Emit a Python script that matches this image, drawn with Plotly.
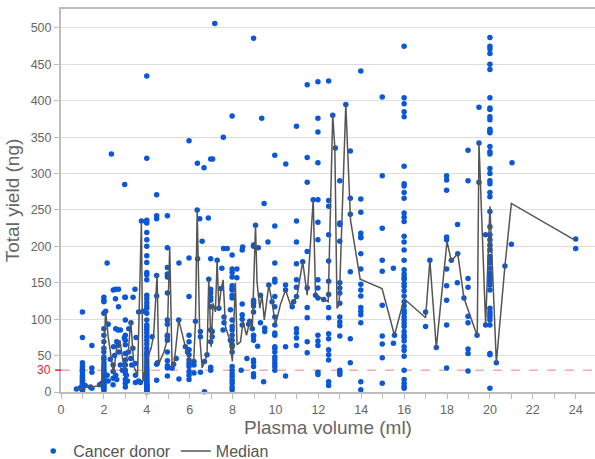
import plotly.graph_objects as go

# ---- data: cancer donor samples, grouped by plasma volume column ----
col_1_x = 1.0
col_1 = [2, 3, 4, 5, 6, 7, 8, 9, 10, 12, 14, 16, 18, 20, 22, 25, 28, 30, 33, 36, 40, 75, 110]
col_2_x = 2.0
col_2 = [2, 4, 6, 8, 10, 12, 15, 18, 20, 23, 25, 28, 30, 33, 36, 40, 45, 48, 55, 60, 69, 78, 87, 108, 124, 126, 130]
col_3_x = 3.0
col_3 = [7, 12, 17, 25, 30, 37, 44, 53, 65, 71, 78, 99, 130]
col_4_x = 4.0
col_4 = [0, 1, 2, 3, 4, 5, 6, 7, 8, 9, 10, 11, 12, 14, 16, 18, 20, 22, 24, 26, 28, 30, 33, 36, 40,
         44, 48, 52, 55, 60, 66, 71, 76, 81, 85, 89, 92, 99, 108, 115, 118, 123, 128, 133, 154, 161,
         164, 178, 187, 200, 209, 219, 232, 236, 321, 434]
col_5_x = 4.96
col_5 = [22, 33, 36, 43, 55, 71, 76, 78, 93, 99, 136, 158, 162, 171, 198, 242]
col_6_x = 5.97
col_6 = [17, 23, 28, 35, 39, 44, 51, 58, 69, 78, 131, 184, 345]
col_7_x = 6.98
col_7 = [30, 34, 69, 85, 117, 126, 130, 136, 141, 183, 320]
col_8_x = 7.98
col_8 = [3, 7, 12, 16, 21, 25, 30, 35, 55, 62, 65, 71, 78, 85, 90, 99, 129, 133, 140, 142, 146,
         158, 164, 169, 188, 379]
col_9_x = 8.98
col_9 = [21, 25, 35, 41, 44, 71, 76, 78, 110, 118, 122, 124, 126, 200, 202, 486]
col_10_x = 9.97
col_10 = [30, 35, 39, 44, 48, 55, 60, 62, 78, 81, 92, 103, 117, 131, 151, 155, 177, 228, 325]
col_11_x = 10.98
col_11 = [64, 74, 81, 87, 131, 144, 154, 176, 206, 235, 365]
col_12_x = 11.98
col_12 = [24, 27, 64, 70, 78, 129, 143, 154, 209, 233, 264, 315, 357, 376, 426]
col_12_5_x = 12.48
col_12_5 = [9, 14, 44, 51, 58, 73, 80, 102, 116, 134, 152, 180, 216, 255, 263, 427]
col_13_x = 13.0
col_13 = [24, 27, 30, 77, 91, 96, 103, 122, 136, 143, 150, 207, 230, 232, 290]
col_13_5_x = 13.49
col_13_5 = [40, 73, 165, 244, 266, 331]
col_14_x = 13.98
col_14 = [3, 14, 95, 106, 111, 116, 132, 140, 148, 169, 190, 212, 213, 218, 247, 265, 441]
col_15_x = 14.98
col_15 = [12, 47, 66, 77, 119, 166, 181, 225, 297, 405]
col_16_x = 16.0
col_16 = [5, 8, 12, 17, 30, 49, 57, 62, 70, 75, 78, 83, 90, 94, 99, 103, 108, 112, 118, 124, 132,
          139, 145, 149, 155, 158, 162, 168, 181, 195, 206, 214, 234, 240, 246, 266, 274, 283, 286,
          310, 378, 385, 396, 404, 475]
col_18_x = 17.98
col_18 = [33, 92, 126, 146, 169, 209, 213, 277, 291, 297]
col_19_x = 18.98
col_19 = [29, 53, 59, 95, 104, 144, 156, 290, 332]
col_20_x = 20.0
col_20 = [5, 51, 53, 92, 99, 103, 106, 110, 115, 140, 147, 152, 156, 158, 163, 170, 177, 181, 186,
          195, 202, 209, 216, 227, 248, 268, 274, 286, 290, 300, 307, 327, 330, 337, 356, 358, 361,
          374, 378, 388, 390, 404, 443, 450, 465, 471, 475, 487]
col_24_x = 24.0
col_24 = [197, 210]

other_x = [0.72, 0.9, 1.13, 1.37, 1.44, 1.44, 1.44, 1.44, 1.8, 1.9,
           2.15, 2.2, 2.15, 2.2, 2.08, 2.35, 2.44, 2.54, 2.68, 2.54, 2.68, 2.98, 2.97, 3.36, 3.45,
           3.62, 3.82, 2.55, 2.66, 2.77, 2.45, 2.6, 2.66, 2.95, 3.16, 3.26, 3.15, 3.25, 3.3, 3.47,
           3.47, 3.62, 2.43, 2.43, 2.43, 2.43, 2.77, 2.86, 3.05, 3.1, 2.55, 2.6, 3.47, 3.7, 3.75,
           3.96, 2.3, 2.5, 2.7, 3.35, 3.5,
           4.46, 4.46, 4.46, 4.46, 4.46, 4.46, 4.46, 4.25, 4.5,
           5.18, 5.25, 5.37, 5.5, 5.49, 5.5, 5.8, 5.9, 6.2, 6.2, 6.2, 6.27, 6.35, 6.36, 6.47,
           6.37, 6.5, 6.5, 6.5, 6.58, 6.67, 6.69, 6.69, 6.81, 6.87, 6.89, 7.07, 7.05, 7.05, 7.17,
           7.28, 7.36, 7.45, 7.5, 7.56, 7.57, 7.58, 7.6, 7.6, 7.75, 7.9, 7.9,
           8.2, 8.2, 8.45, 8.45, 8.45, 8.45, 8.45, 8.47, 8.4, 8.67, 8.75, 8.8, 8.92, 9.07, 9.17,
           9.2, 9.3, 9.3, 9.36, 9.45, 9.47, 9.5, 9.5, 9.65, 9.69, 9.84,
           10.47, 10.47, 10.47, 10.47, 10.48, 10.78, 10.85, 11.27, 11.48, 11.48, 11.48, 11.48,
           11.48, 11.48, 11.48, 11.48, 11.48, 11.76, 11.87, 12.25, 12.67, 12.79, 13.28,
           15.5, 15.55, 15.5, 17.0, 17.0, 17.2, 17.5, 18.2, 18.48, 18.49, 18.5, 18.79, 19.4,
           19.49, 19.49, 19.49, 19.8, 19.8, 20.3, 20.7, 21.0, 21.03]
other_y = [4, 6, 9, 7, 5, 27, 33, 64, 10, 12,
           177, 93, 23, 15, 111, 327, 140, 141, 141, 128, 117, 130, 285, 130, 141,
           110, 111, 87, 85, 85, 62, 69, 64, 74, 87, 95, 55, 46, 37, 39,
           23, 15, 37, 28, 19, 10, 37, 30, 23, 15, 23, 17, 13, 13, 235,
           234, 45, 50, 55, 60, 75,
           160, 132, 38, 16, 271, 242, 238, 76, 40,
           33, 38, 46, 177, 99, 18, 62, 55, 42, 37, 26, 97, 250, 314, 238,
           183, 83, 76, 27, 207, 308, 0.5, 42, 51, 239, 155, 320, 83, 76, 506,
           181, 115, 142, 170, 85, 350, 197, 103, 95, 197, 113, 71,
           169, 157, 195, 121, 106, 100, 92, 199, 30, 46, 93, 97, 87, 229, 63,
           198, 133, 95, 376, 14, 259, 88, 83, 206, 147, 124,
           147, 140, 62, 22, 313, 117, 124, 179, 193, 143, 116, 102,
           69, 54, 288, 322, 422, 264, 133, 127, 380, 335, 395,
           170, 78, 67, 110, 90, 181, 61, 181, 150, 230, 190, 129, 78,
           391, 288, 342, 216, 92, 40, 173, 203, 315]

# ---- median line ----
median_x = [0.7, 1.0, 1.2, 1.45, 1.8, 1.95, 2.0, 2.08, 2.2, 2.45, 2.6, 2.75, 2.95, 3.15, 3.25, 3.4,
            3.57, 3.75, 3.82, 3.98, 4.2, 4.32, 4.48, 4.56, 4.8, 4.95, 5.07, 5.18, 5.27, 5.49, 5.8,
            6.0, 6.19, 6.27, 6.35, 6.47, 6.58, 6.69, 6.81, 6.89, 7.0, 7.09, 7.2, 7.28, 7.36, 7.47,
            7.56, 7.67, 7.87, 7.99, 8.13, 8.21, 8.37, 8.49, 8.65, 8.8, 8.92, 9.07, 9.14, 9.27, 9.37,
            9.48, 9.69, 9.84, 10.0, 10.23, 10.47, 10.7, 10.85, 11.0, 11.27, 11.48, 11.76, 11.87,
            12.25, 12.46, 12.67, 12.77, 12.87, 12.97, 13.28, 13.5, 13.95, 14.97, 15.55, 16.0, 17.0,
            17.2, 17.5, 18.0, 18.2, 18.5, 18.79, 19.41, 19.49, 19.8, 20.0, 20.3, 20.7, 21.0, 24.0]
median_y = [4, 5, 7, 7, 9, 12, 55, 111, 76, 25, 62, 71, 30, 59, 98, 35,
            23, 235, 14, 42, 60, 78, 161, 39, 55, 71, 199, 35, 38, 99, 62,
            42, 44, 97, 250, 76, 33, 42, 51, 155, 62, 122, 110, 181, 115, 142,
            154, 90, 71, 42, 150, 65, 69, 97, 78, 97, 87, 229, 151, 115, 133,
            99, 147, 124, 92, 120, 140, 120, 124, 131, 179, 133, 264, 133,
            127, 124, 380, 335, 115, 120, 395, 236, 155, 142, 78, 128, 102,
            181, 61, 207, 180, 190, 129, 77, 342, 92, 255, 40, 173, 259, 208]

x_ticks = list(range(0, 25, 2))
y_ticks = list(range(0, 501, 50))
threshold = 30

# ---- assemble scatter ----
columns = [
    (col_1_x, col_1), (col_2_x, col_2), (col_3_x, col_3), (col_4_x, col_4), (col_5_x, col_5),
    (col_6_x, col_6), (col_7_x, col_7), (col_8_x, col_8), (col_9_x, col_9), (col_10_x, col_10),
    (col_11_x, col_11), (col_12_x, col_12), (col_12_5_x, col_12_5), (col_13_x, col_13),
    (col_13_5_x, col_13_5), (col_14_x, col_14), (col_15_x, col_15), (col_16_x, col_16),
    (col_18_x, col_18), (col_19_x, col_19), (col_20_x, col_20), (col_24_x, col_24),
]
donor_x, donor_y = [], []
for cx, ys in columns:
    donor_x += [cx] * len(ys)
    donor_y += ys
donor_x += other_x
donor_y += other_y

BLUE = "#0a57d8"
GRAY_TXT = "#666666"
AXIS = "#bdbdbd"
FONT = "Liberation Sans, Arial, sans-serif"

fig = go.Figure()
fig.add_trace(go.Scatter(
    x=donor_x, y=donor_y, mode="markers", name="Cancer donor",
    marker=dict(color=BLUE, size=5.5), cliponaxis=False,
))
fig.add_trace(go.Scatter(
    x=median_x, y=median_y, mode="lines", name="Median",
    line=dict(color="#555555", width=1.5), cliponaxis=False,
))

# threshold dashed line
fig.add_shape(type="line", xref="paper", x0=0, x1=1, yref="y", y0=threshold, y1=threshold,
              line=dict(color="#f08080", width=1, dash="dash"), layer="below")
fig.add_shape(type="line", xref="paper", x0=-0.011, x1=0, yref="y", y0=threshold, y1=threshold,
              line=dict(color="#d7263d", width=1.5))
fig.add_annotation(x=0, xref="paper", y=threshold, yref="y", text=str(threshold),
                   showarrow=False, xanchor="right", xshift=-8,
                   font=dict(color="#d7263d", size=12, family=FONT))

fig.update_layout(
    width=595, height=459,
    margin=dict(l=61, r=0, t=9, b=67, autoexpand=False),
    paper_bgcolor="white", plot_bgcolor="white",
    font=dict(family=FONT, color=GRAY_TXT, size=12),
    showlegend=True,
    legend=dict(orientation="h", x=-0.052, y=-0.154, xanchor="left", yanchor="middle",
                font=dict(size=16, color="#555555"), itemwidth=30,
                bgcolor="rgba(0,0,0,0)"),
    xaxis=dict(
        range=[0, 24.9], tickvals=x_ticks, ticks="outside", ticklen=5, tickcolor=AXIS,
        showgrid=False, zeroline=False, showline=True, linecolor=AXIS, linewidth=2,
        mirror=True,
        minor=dict(dtick=1, ticks="outside", ticklen=5, tickcolor=AXIS, showgrid=False),
        tickfont=dict(size=12.5, color=GRAY_TXT),
        title=dict(text="Plasma volume (ml)", font=dict(size=19, color="#666666"), standoff=4),
    ),
    yaxis=dict(
        range=[0, 526], tickvals=y_ticks, ticks="outside", ticklen=5, tickcolor=AXIS,
        showgrid=True, gridcolor="#dddddd", gridwidth=1, zeroline=False,
        showline=True, linecolor=AXIS, linewidth=2,
        tickfont=dict(size=12.5, color=GRAY_TXT),
        title=dict(text="Total yield (ng)", font=dict(size=19, color="#666666"), standoff=6),
    ),
)

fig.write_html("out.html")
